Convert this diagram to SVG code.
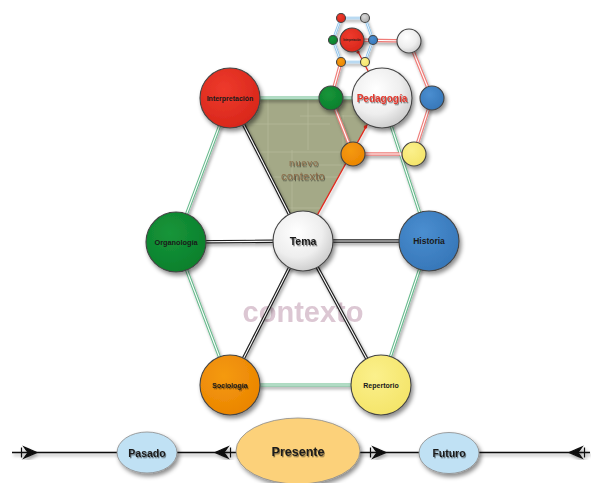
<svg xmlns="http://www.w3.org/2000/svg" xmlns:xlink="http://www.w3.org/1999/xlink" width="591" height="483" viewBox="0 0 591 483">
<defs>
<style>
.lbl{font-family:"Liberation Sans",Arial,sans-serif;font-weight:bold;text-anchor:middle;fill:#1a1a1a}
.g1{stroke:#63b98a;stroke-width:3.2;fill:none}
.k1{stroke:#1e1e1e;stroke-width:3.4;fill:none}
.p1{stroke:#ef7c78;stroke-width:3.4;fill:none}
.b1{stroke:#8cc2ea;stroke-width:2.6;fill:none}
.in{stroke:#fff;stroke-width:1.1;fill:none}
.in2{stroke:#fff;stroke-width:0.8;fill:none}
.nd{stroke:#444;stroke-width:1.1}
.tl{stroke:#111;stroke-width:1.6;fill:none}
.ell{stroke:#8a8a8a;stroke-width:0.8}
</style>
<filter id="sh" x="-40%" y="-40%" width="180%" height="180%"><feDropShadow dx="2" dy="3" stdDeviation="2.2" flood-color="#000" flood-opacity="0.45"/></filter>
<filter id="lsh" x="-10%" y="-10%" width="120%" height="120%"><feDropShadow dx="1.5" dy="2.5" stdDeviation="1.5" flood-color="#000" flood-opacity="0.35"/></filter>
<filter id="ts" x="-20%" y="-40%" width="140%" height="180%"><feDropShadow dx="1" dy="1.3" stdDeviation="0.5" flood-color="#000" flood-opacity="0.45"/></filter>
<filter id="bs" x="-10%" y="-20%" width="120%" height="140%"><feGaussianBlur stdDeviation="0.6"/></filter>
<radialGradient id="gRed" cx="40%" cy="35%" r="70%"><stop offset="0" stop-color="#ee3a2c"/><stop offset="1" stop-color="#d7261a"/></radialGradient>
<radialGradient id="gGreen" cx="40%" cy="35%" r="70%"><stop offset="0" stop-color="#16953a"/><stop offset="1" stop-color="#0b7f2b"/></radialGradient>
<radialGradient id="gBlue" cx="40%" cy="35%" r="70%"><stop offset="0" stop-color="#4a8ed0"/><stop offset="1" stop-color="#3676b8"/></radialGradient>
<radialGradient id="gOrange" cx="40%" cy="35%" r="70%"><stop offset="0" stop-color="#f59a10"/><stop offset="1" stop-color="#ea8400"/></radialGradient>
<radialGradient id="gYellow" cx="40%" cy="35%" r="70%"><stop offset="0" stop-color="#fbf08c"/><stop offset="1" stop-color="#f4e468"/></radialGradient>
<radialGradient id="gWhite" cx="40%" cy="35%" r="70%"><stop offset="0" stop-color="#ffffff"/><stop offset="0.6" stop-color="#eeeeee"/><stop offset="1" stop-color="#c9c9c9"/></radialGradient>
<radialGradient id="gGrey" cx="40%" cy="35%" r="70%"><stop offset="0" stop-color="#d8d8d8"/><stop offset="1" stop-color="#a8a8a8"/></radialGradient>
<clipPath id="triClip"><polygon points="230,98 382,98 303,241"/></clipPath>
<path id="arrR" d="M0,0 L-13,-5.5 L-9,0 L-13,5.5 Z M-15.5,-5 L-15.5,5" fill="#111" stroke="#111" stroke-width="1.2"/>
</defs>

<rect width="591" height="483" fill="#fff"/>

<!-- background label -->
<text x="303" y="322" font-family="'Liberation Sans',Arial,sans-serif" font-weight="bold" font-size="29" text-anchor="middle" fill="#dcc7d3" filter="url(#bs)">contexto</text>

<!-- nuevo contexto triangle -->
<g id="nuevo-contexto">
<polygon points="230,98 382,98 303,241" fill="#a4a987"/>
<g clip-path="url(#triClip)" stroke="#bfc3a4" stroke-width="0.7" opacity="0.7">
<line x1="268" y1="98" x2="268" y2="200"/>
<line x1="292" y1="150" x2="292" y2="241"/>
<line x1="308" y1="100" x2="308" y2="150"/>
<line x1="343" y1="115" x2="343" y2="241"/>
<line x1="352" y1="140" x2="352" y2="241"/>
<line x1="230" y1="124" x2="330" y2="124"/>
<line x1="250" y1="152" x2="382" y2="152"/>
<line x1="300" y1="116" x2="382" y2="116"/>
<line x1="255" y1="177" x2="382" y2="177"/>
<line x1="310" y1="165" x2="382" y2="165"/>
<line x1="270" y1="208" x2="382" y2="208"/>
</g>
<text x="304" y="166" font-family="'Liberation Sans',Arial,sans-serif" font-size="9.5" text-anchor="middle" fill="#8a6a48" letter-spacing="0.8" filter="url(#ts)">nuevo</text>
<text x="303" y="179.5" font-family="'Liberation Sans',Arial,sans-serif" font-size="11" text-anchor="middle" fill="#8a6a48" letter-spacing="0.3" filter="url(#ts)">contexto</text>
</g>

<!-- connectors -->
<g id="connectors">
<g filter="url(#lsh)">
<line class="g1" x1="230" y1="98" x2="382" y2="98"/>
<line class="g1" x1="382" y1="98" x2="429" y2="241"/>
<line class="g1" x1="429" y1="241" x2="381" y2="385"/>
<line class="g1" x1="381" y1="385" x2="230" y2="385"/>
<line class="g1" x1="230" y1="385" x2="176" y2="242"/>
<line class="g1" x1="176" y1="242" x2="230" y2="98"/>
<line class="k1" x1="303" y1="241" x2="176" y2="242"/>
<line class="k1" x1="303" y1="241" x2="429" y2="241"/>
<line class="k1" x1="303" y1="241" x2="230" y2="385"/>
<line class="k1" x1="303" y1="241" x2="381" y2="385"/>
<line class="k1" x1="303" y1="241" x2="230" y2="98"/>
<line class="p1" x1="352" y1="40" x2="409" y2="41"/>
<line class="p1" x1="409" y1="41" x2="432" y2="98"/>
<line class="p1" x1="432" y1="98" x2="414" y2="154"/>
<line class="p1" x1="414" y1="154" x2="353" y2="154"/>
<line class="p1" x1="353" y1="154" x2="331" y2="98"/>
<line class="p1" x1="331" y1="98" x2="341" y2="62"/>
<polygon class="b1" points="341,18 365,18 373,40 365,62 341,62 333,40"/>
<line x1="303" y1="241" x2="382" y2="98" stroke="#e2281c" stroke-width="1.4"/>
<line x1="352" y1="40" x2="382" y2="98" stroke="#e2281c" stroke-width="1.2"/>
</g>
<line class="in" x1="230" y1="98" x2="382" y2="98"/>
<line class="in" x1="382" y1="98" x2="429" y2="241"/>
<line class="in" x1="429" y1="241" x2="381" y2="385"/>
<line class="in" x1="381" y1="385" x2="230" y2="385"/>
<line class="in" x1="230" y1="385" x2="176" y2="242"/>
<line class="in" x1="176" y1="242" x2="230" y2="98"/>
<line class="in" x1="303" y1="241" x2="176" y2="242"/>
<line class="in" x1="303" y1="241" x2="429" y2="241"/>
<line class="in" x1="303" y1="241" x2="230" y2="385"/>
<line class="in" x1="303" y1="241" x2="381" y2="385"/>
<line class="in" x1="303" y1="241" x2="230" y2="98"/>
<line class="in" x1="352" y1="40" x2="409" y2="41"/>
<line class="in" x1="409" y1="41" x2="432" y2="98"/>
<line class="in" x1="432" y1="98" x2="414" y2="154"/>
<line class="in" x1="414" y1="154" x2="353" y2="154"/>
<line class="in" x1="353" y1="154" x2="331" y2="98"/>
<line class="in" x1="331" y1="98" x2="341" y2="62"/>
<polygon class="in2" points="341,18 365,18 373,40 365,62 341,62 333,40"/>
<circle cx="365.5" cy="127" r="1.8" fill="#e2281c"/>
<circle cx="358" cy="52" r="1.6" fill="#e2281c"/>

<g filter="url(#lsh)">
<line class="tl" x1="12" y1="452.5" x2="590" y2="452.5"/>
<use xlink:href="#arrR" transform="translate(37,452.5)"/>
<use xlink:href="#arrR" transform="translate(215,452.5) scale(-1,1)"/>
<use xlink:href="#arrR" transform="translate(386,452.5)"/>
<use xlink:href="#arrR" transform="translate(569,452.5) scale(-1,1)"/>
</g>
</g>

<!-- main nodes -->
<g id="node-interpretacion">
<circle class="nd" cx="230" cy="98" r="30" fill="url(#gRed)" filter="url(#sh)"/>
<text class="lbl" x="230" y="100.5" font-size="7">Interpretación</text>
</g>
<g id="node-organologia">
<circle class="nd" cx="176" cy="242" r="30" fill="url(#gGreen)" filter="url(#sh)"/>
<text class="lbl" x="176" y="244.5" font-size="7.3">Organología</text>
</g>
<g id="node-tema">
<circle class="nd" cx="303" cy="241" r="30" fill="url(#gWhite)" filter="url(#sh)"/>
<text class="lbl" x="303" y="245" font-size="10.5" filter="url(#ts)">Tema</text>
</g>
<g id="node-historia">
<circle class="nd" cx="429" cy="241" r="30" fill="url(#gBlue)" filter="url(#sh)"/>
<text class="lbl" x="429" y="244" font-size="8.5">Historia</text>
</g>
<g id="node-sociologia">
<circle class="nd" cx="230" cy="385" r="30" fill="url(#gOrange)" filter="url(#sh)"/>
<text class="lbl" x="230" y="387.5" font-size="7" filter="url(#ts)">Sociología</text>
</g>
<g id="node-repertorio">
<circle class="nd" cx="381" cy="385" r="30" fill="url(#gYellow)" filter="url(#sh)"/>
<text class="lbl" x="381" y="387.5" font-size="7">Repertorio</text>
</g>

<!-- medium hexagon nodes -->
<g id="node-m-green"><circle class="nd" cx="331" cy="98" r="12" fill="url(#gGreen)" filter="url(#sh)"/></g>
<g id="node-m-orange"><circle class="nd" cx="353" cy="154" r="12" fill="url(#gOrange)" filter="url(#sh)"/></g>
<g id="node-m-yellow"><circle class="nd" cx="414" cy="154" r="12" fill="url(#gYellow)" filter="url(#sh)"/></g>
<g id="node-m-blue"><circle class="nd" cx="432" cy="98" r="12" fill="url(#gBlue)" filter="url(#sh)"/></g>
<g id="node-m-white"><circle class="nd" cx="409" cy="41" r="12" fill="url(#gWhite)" filter="url(#sh)"/></g>

<g id="node-pedagogia">
<circle class="nd" cx="382" cy="98" r="30" fill="url(#gWhite)" filter="url(#sh)"/>
<text x="382" y="102" font-family="'Liberation Sans',Arial,sans-serif" font-weight="bold" font-size="10" text-anchor="middle" fill="#e0392f" filter="url(#ts)">Pedagogía</text>
</g>

<!-- tiny hexagon nodes -->
<g id="node-t-red"><circle class="nd" cx="341" cy="18" r="4.5" fill="url(#gRed)" stroke-width="0.6"/></g>
<g id="node-t-grey"><circle class="nd" cx="365" cy="18" r="4.5" fill="url(#gGrey)" stroke-width="0.6"/></g>
<g id="node-t-green"><circle class="nd" cx="333" cy="40" r="4.5" fill="url(#gGreen)" stroke-width="0.6"/></g>
<g id="node-t-blue"><circle class="nd" cx="373" cy="40" r="4.5" fill="url(#gBlue)" stroke-width="0.6"/></g>
<g id="node-t-orange"><circle class="nd" cx="341" cy="62" r="4.5" fill="url(#gOrange)" stroke-width="0.6"/></g>
<g id="node-t-yellow"><circle class="nd" cx="365" cy="62" r="4.5" fill="url(#gYellow)" stroke-width="0.6"/></g>
<g id="node-t-center">
<circle class="nd" cx="352" cy="40" r="12" fill="url(#gRed)" filter="url(#sh)"/>
<text class="lbl" x="352" y="41" font-size="2.6">Interpretación</text>
</g>

<!-- timeline nodes -->
<g id="node-pasado">
<ellipse class="ell" cx="147" cy="452.5" rx="30" ry="20.5" fill="#c0e1f4" filter="url(#sh)"/>
<text class="lbl" x="147" y="456.5" font-size="10.5" filter="url(#ts)">Pasado</text>
</g>
<g id="node-presente">
<ellipse class="ell" cx="298" cy="451" rx="62" ry="33" fill="#fcd17a" filter="url(#sh)"/>
<text class="lbl" x="298" y="456" font-size="12.5" filter="url(#ts)">Presente</text>
</g>
<g id="node-futuro">
<ellipse class="ell" cx="449" cy="453" rx="30" ry="20.5" fill="#c0e1f4" filter="url(#sh)"/>
<text class="lbl" x="449" y="457" font-size="10.5" filter="url(#ts)">Futuro</text>
</g>
</svg>
